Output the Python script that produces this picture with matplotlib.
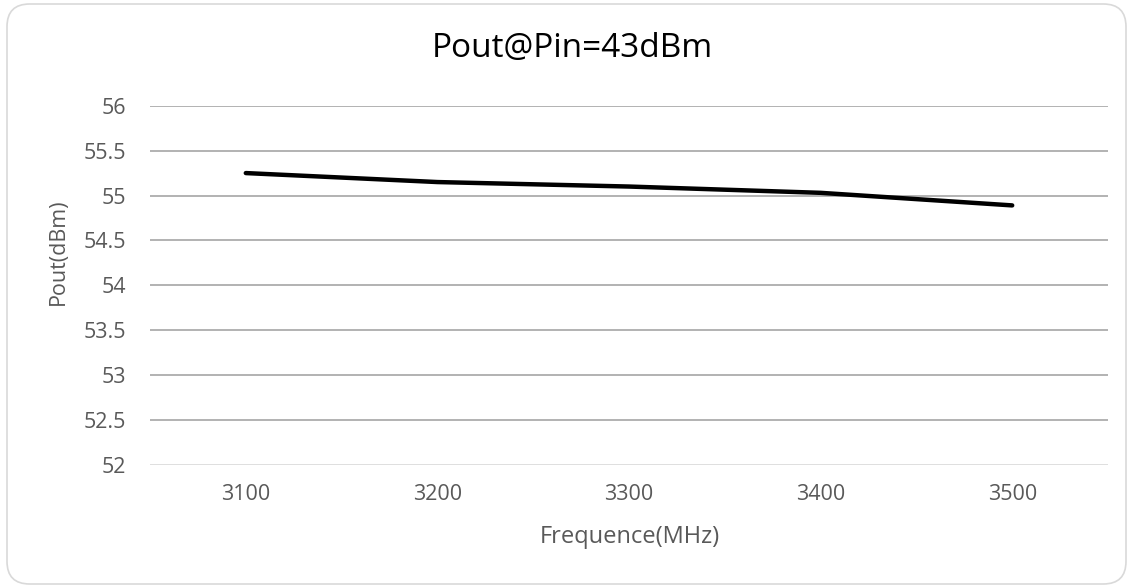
import matplotlib
matplotlib.use("Agg")
import matplotlib.pyplot as plt
from matplotlib.patches import FancyBboxPatch

# data
freq = ["3100", "3200", "3300", "3400", "3500"]
pout = [55.25, 55.15, 55.10, 55.03, 54.89]
yticks = [52, 52.5, 53, 53.5, 54, 54.5, 55, 55.5, 56]
ytick_labels = ["52", "52.5", "53", "53.5", "54", "54.5", "55", "55.5", "56"]

plt.rcParams['font.family'] = ['Open Sans', 'DejaVu Sans']
text_color = '#595959'
W, H = 1133, 588

fig = plt.figure(figsize=(W / 100, H / 100), dpi=100)
ax = fig.add_axes([150 / W, 1 - 465 / H, 958 / W, (465 - 105.7) / H])

# rounded chart border
border = FancyBboxPatch((7 / W, 4 / H), 1119 / W, 580 / H,
                        boxstyle="round,pad=0,rounding_size=0.02",
                        transform=fig.transFigure, facecolor='none',
                        edgecolor='#d9d9d9', linewidth=1.2, mutation_aspect=W / H)
fig.patches.append(border)

x = list(range(len(freq)))
ax.plot(x, pout, color='black', linewidth=3.2, solid_capstyle='round', solid_joinstyle='round', zorder=3)

ax.set_xlim(-0.5, len(freq) - 0.5)
ax.set_ylim(52, 56)
ax.set_xticks(x)
ax.set_xticklabels(freq)
ax.set_yticks(yticks)
ax.set_yticklabels(ytick_labels)

for v in yticks:
    ax.axhline(v, color='#d9d9d9' if v == 52 else '#a6a6a6', linewidth=1.2, zorder=1)

for s in ax.spines.values():
    s.set_visible(False)
ax.tick_params(axis='both', length=0, labelsize=15.5, colors=text_color)
ax.tick_params(axis='y', pad=17)
ax.tick_params(axis='x', pad=14)

fig.text(572 / W, 1 - 48 / H, "Pout@Pin=43dBm", fontsize=24, color='black', ha='center', va='center')
fig.text(630 / W, 1 - 537 / H, "Frequence(MHz)", fontsize=17, color=text_color, ha='center', va='center')
fig.text(58 / W, 1 - 252 / H, "Pout(dBm)", fontsize=15.5, color=text_color, ha='center', va='center', rotation=90)

fig.savefig("out.png", dpi=100)
